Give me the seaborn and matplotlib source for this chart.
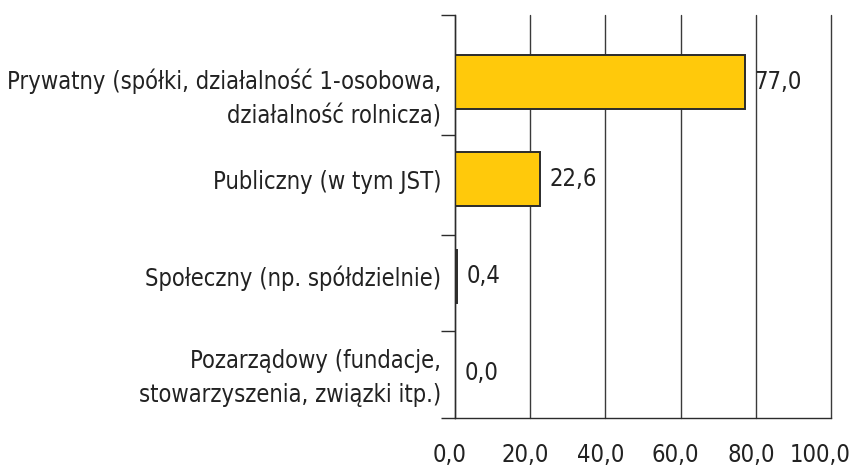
import matplotlib
matplotlib.use("Agg")
import matplotlib.pyplot as plt
from matplotlib.transforms import ScaledTranslation
import seaborn as sns

categories = [
    "Prywatny (spółki, działalność 1-osobowa,\ndziałalność rolnicza)",
    "Publiczny (w tym JST)",
    "Społeczny (np. spółdzielnie)",
    "Pozarządowy (fundacje,\nstowarzyszenia, związki itp.)",
]
values = [77.0, 22.6, 0.4, 0.0]
x_ticks = [0, 20, 40, 60, 80, 100]

BAR_COLOR = "#FFC90B"
LINE_COLOR = "#2b2b2b"
TEXT_COLOR = "#222222"


def pl_fmt(v):
    return f"{v:.1f}".replace(".", ",")


def shift(artist, fig, dx_px, dy_px):
    off = ScaledTranslation(dx_px / fig.dpi, dy_px / fig.dpi, fig.dpi_scale_trans)
    artist.set_transform(artist.get_transform() + off)


def main():
    sns.set_style("white")
    plt.rcParams["font.family"] = ["DejaVu Sans"]
    plt.rcParams["font.stretch"] = "condensed"
    plt.rcParams["font.size"] = 17

    fig = plt.figure(figsize=(8.56, 4.75), dpi=100)
    ax = fig.add_axes([455 / 856, 1 - 418 / 475, 376 / 856, 403 / 475])

    sns.barplot(x=values, y=categories, orient="h", color=BAR_COLOR,
                edgecolor=LINE_COLOR, linewidth=1.4, width=0.55,
                saturation=1, ax=ax)

    ax.set_xlim(0, 100)
    ax.set_ylim(3.46, -0.69)
    ax.set_xticks(x_ticks)
    ax.set_xticklabels([pl_fmt(t) for t in x_ticks])
    ax.set_yticks([-0.69, 0.55, 1.58, 2.56, 3.46], minor=True)

    ax.xaxis.grid(True, color="#3a3a3a", linewidth=1.0)
    for gl in ax.get_xgridlines():
        gl.set_clip_on(False)
    ax.set_axisbelow(True)
    for side in ["top", "right"]:
        ax.spines[side].set_visible(False)
    for side in ["left", "bottom"]:
        ax.spines[side].set_color(LINE_COLOR)
        ax.spines[side].set_linewidth(1.0)

    ax.tick_params(axis="x", which="major", direction="out", length=10,
                   width=1, color=LINE_COLOR, pad=8, labelcolor=TEXT_COLOR)
    ax.tick_params(axis="y", which="major", length=0, pad=10, labelcolor=TEXT_COLOR)
    ax.tick_params(axis="y", which="minor", direction="out", length=10,
                   width=1, color=LINE_COLOR, left=True)
    ax.set_xlabel("")
    ax.set_ylabel("")

    for lab in ax.get_yticklabels():
        lab.set_linespacing(1.55)

    # nudge tick labels a little, as in the original layout
    xlabs = ax.get_xticklabels()
    for lab in xlabs[:-1]:
        shift(lab, fig, -5, 0)
    shift(xlabs[-1], fig, -11, 0)
    shift(ax.get_yticklabels()[0], fig, 0, -9)
    shift(ax.get_yticklabels()[3], fig, 0, 3)

    for cont in ax.containers:
        for t in ax.bar_label(cont, fmt=pl_fmt, padding=7, color=TEXT_COLOR,
                              fontsize=17):
            shift(t, fig, 0, -2)

    fig.savefig("out.png", dpi=100)


if __name__ == "__main__":
    main()
